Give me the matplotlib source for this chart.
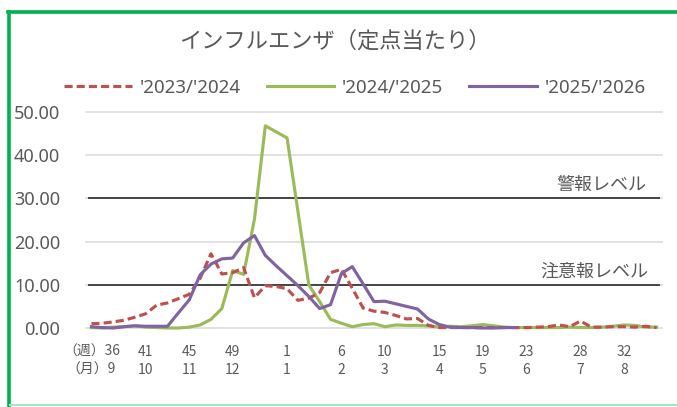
import matplotlib
matplotlib.use("Agg")
import matplotlib.pyplot as plt
from matplotlib.lines import Line2D

plt.rcParams['font.family'] = ['Noto Sans', 'Noto Sans CJK JP', 'DejaVu Sans']

# ---- data ----
title = "インフルエンザ（定点当たり）"
series_names = ["'2023/'2024", "'2024/'2025", "'2025/'2026"]

# weekly categories: week 36..53, then 1..35 (53 categories)
weeks = list(range(36, 54)) + list(range(1, 36))

s2023 = [1.0, 1.1, 1.4, 1.8, 2.5, 3.3, 5.3, 5.8, 6.8, 7.8,
         11.5, 17.2, 12.5, 12.8, 14.0, 7.0, 9.8, 9.6, 9.1, 6.4,
         6.9, 8.2, 12.8, 13.6, 9.2, 4.6, 3.9, 3.6, 2.9, 2.1,
         2.2, 0.6, 0.1, 0.1, 0.1, 0.1, 0.1, 0.1, 0.1, 0.1,
         0.1, 0.2, 0.3, 0.7, 0.3, 1.6, 0.2, 0.2, 0.3, 0.3,
         0.2, 0.4, 0.1]
s2024 = [0.1, 0.0, 0.2, 0.3, 0.5, 0.2, 0.1, 0.0, 0.0, 0.2,
         0.7, 2.0, 4.5, 13.3, 12.4, 25.2, 46.8, 45.4, 44.0, 27.0,
         10.0, 6.1, 2.0, 1.1, 0.3, 0.8, 1.0, 0.3, 0.7, 0.6,
         0.6, 0.5, 0.2, 0.4, 0.3, 0.5, 0.8, 0.5, 0.2, 0.1,
         0.1, 0.1, 0.1, 0.1, 0.2, 0.1, 0.1, 0.2, 0.4, 0.7,
         0.6, 0.2, 0.2]
s2025 = [0.3, 0.1, 0.0, 0.3, 0.5, 0.4, 0.4, 0.4, 3.5, 6.5,
         12.3, 14.8, 16.0, 16.2, 19.7, 21.4, 16.8, 14.4, 12.1, 9.8,
         7.3, 4.5, 5.4, 12.6, 14.2, 10.2, 6.1, 6.2, 5.6, 5.0,
         4.4, 2.1, 0.8, 0.2, 0.1, 0.1, 0.0, 0.0, 0.1, 0.1]

tick_weeks = ["（週）36", "41", "45", "49", "1", "6", "10", "15", "19", "23", "28", "32"]
tick_months = ["（月）9", "10", "11", "12", "1", "2", "3", "4", "5", "6", "7", "8"]
tick_week_numbers = [36, 41, 45, 49, 1, 6, 10, 15, 19, 23, 28, 32]

warning_level = 30
advisory_level = 10
warning_label = "警報レベル"
advisory_label = "注意報レベル"

y_ticks = [0, 10, 20, 30, 40, 50]

# ---- styles ----
TXT = "#595959"
RED = "#C0504D"
GREEN = "#9BBB59"
PURPLE = "#8064A2"
GRID = "#D9D9D9"

W, H = 677, 407
fig = plt.figure(figsize=(W / 100, H / 100), dpi=100)
fig.patch.set_facecolor("white")

ax = fig.add_axes([86 / W, 1 - 328 / H, (662 - 86) / W, 216 / H])
ax.set_xlim(-0.5, len(weeks) - 0.5)
ax.set_ylim(0, 50)
for sp in ax.spines.values():
    sp.set_visible(False)

for yv in y_ticks:
    ax.axhline(yv, color=GRID, lw=1.1, zorder=0, clip_on=False)

# level lines
ax.hlines([warning_level, advisory_level], -0.35, len(weeks) - 0.7,
          color="#1a1a1a", lw=1.1, zorder=1)
ax.text(len(weeks) - 1.95, warning_level + 1.0, warning_label, ha="right", va="bottom",
        fontsize=13, color=TXT, family=['Noto Sans CJK JP'])
ax.text(len(weeks) - 1.8, advisory_level + 1.0, advisory_label, ha="right", va="bottom",
        fontsize=13, color=TXT, family=['Noto Sans CJK JP'])

x23 = list(range(len(s2023)))
x24 = list(range(len(s2024)))
x25 = list(range(len(s2025)))
l1, = ax.plot(x23, s2023, color=RED, lw=2.25, dashes=(2.6, 1.3), zorder=3,
              clip_on=False, label=series_names[0])
l2, = ax.plot(x24, s2024, color=GREEN, lw=2.25, zorder=2, clip_on=False,
              label=series_names[1])
l3, = ax.plot(x25, s2025, color=PURPLE, lw=2.25, zorder=4, clip_on=False,
              label=series_names[2])

# y ticks
ax.set_yticks(y_ticks)
ax.set_yticklabels([f"{v:.2f}" for v in y_ticks])
ax.tick_params(axis="y", length=0, pad=18.5, labelsize=13, labelcolor=TXT)

# x labels (two rows)
ax.set_xticks([])
tick_pos = [weeks.index(w) for w in tick_week_numbers]
trans = ax.get_xaxis_transform()
for p, wl, ml in zip(tick_pos, tick_weeks, tick_months):
    ax.text(p, -24 / 216, wl, transform=trans, ha="center", va="center",
            fontsize=10, color=TXT, family=['Noto Sans CJK JP'])
    ax.text(p, -42 / 216, ml, transform=trans, ha="center", va="center",
            fontsize=10, color=TXT, family=['Noto Sans CJK JP'])

# title
fig.text(335 / W, 1 - 41 / H, title, ha="center", va="center", fontsize=16,
         color=TXT, family=['Noto Sans CJK JP'])

# legend
leg = fig.legend(handles=[l1, l2, l3], loc="center", ncol=3,
                 bbox_to_anchor=(355 / W, 1 - 88 / H), frameon=False,
                 fontsize=13.5, handlelength=3.6, handletextpad=0.4,
                 columnspacing=1.4, labelcolor=TXT)

# green frame
fig.add_artist(Line2D([9 / W, 9 / W], [0, 1 - 12 / H], transform=fig.transFigure,
                      color="#00B050", lw=2.6))
fig.add_artist(Line2D([8 / W, 1], [1 - 12 / H, 1 - 12 / H], transform=fig.transFigure,
                      color="#00B050", lw=2.6))
fig.add_artist(Line2D([10 / W, 1], [1 - 404.5 / H, 1 - 404.5 / H], transform=fig.transFigure,
                      color="#A8E6BF", lw=1.5))

fig.savefig("out.png", dpi=100)
